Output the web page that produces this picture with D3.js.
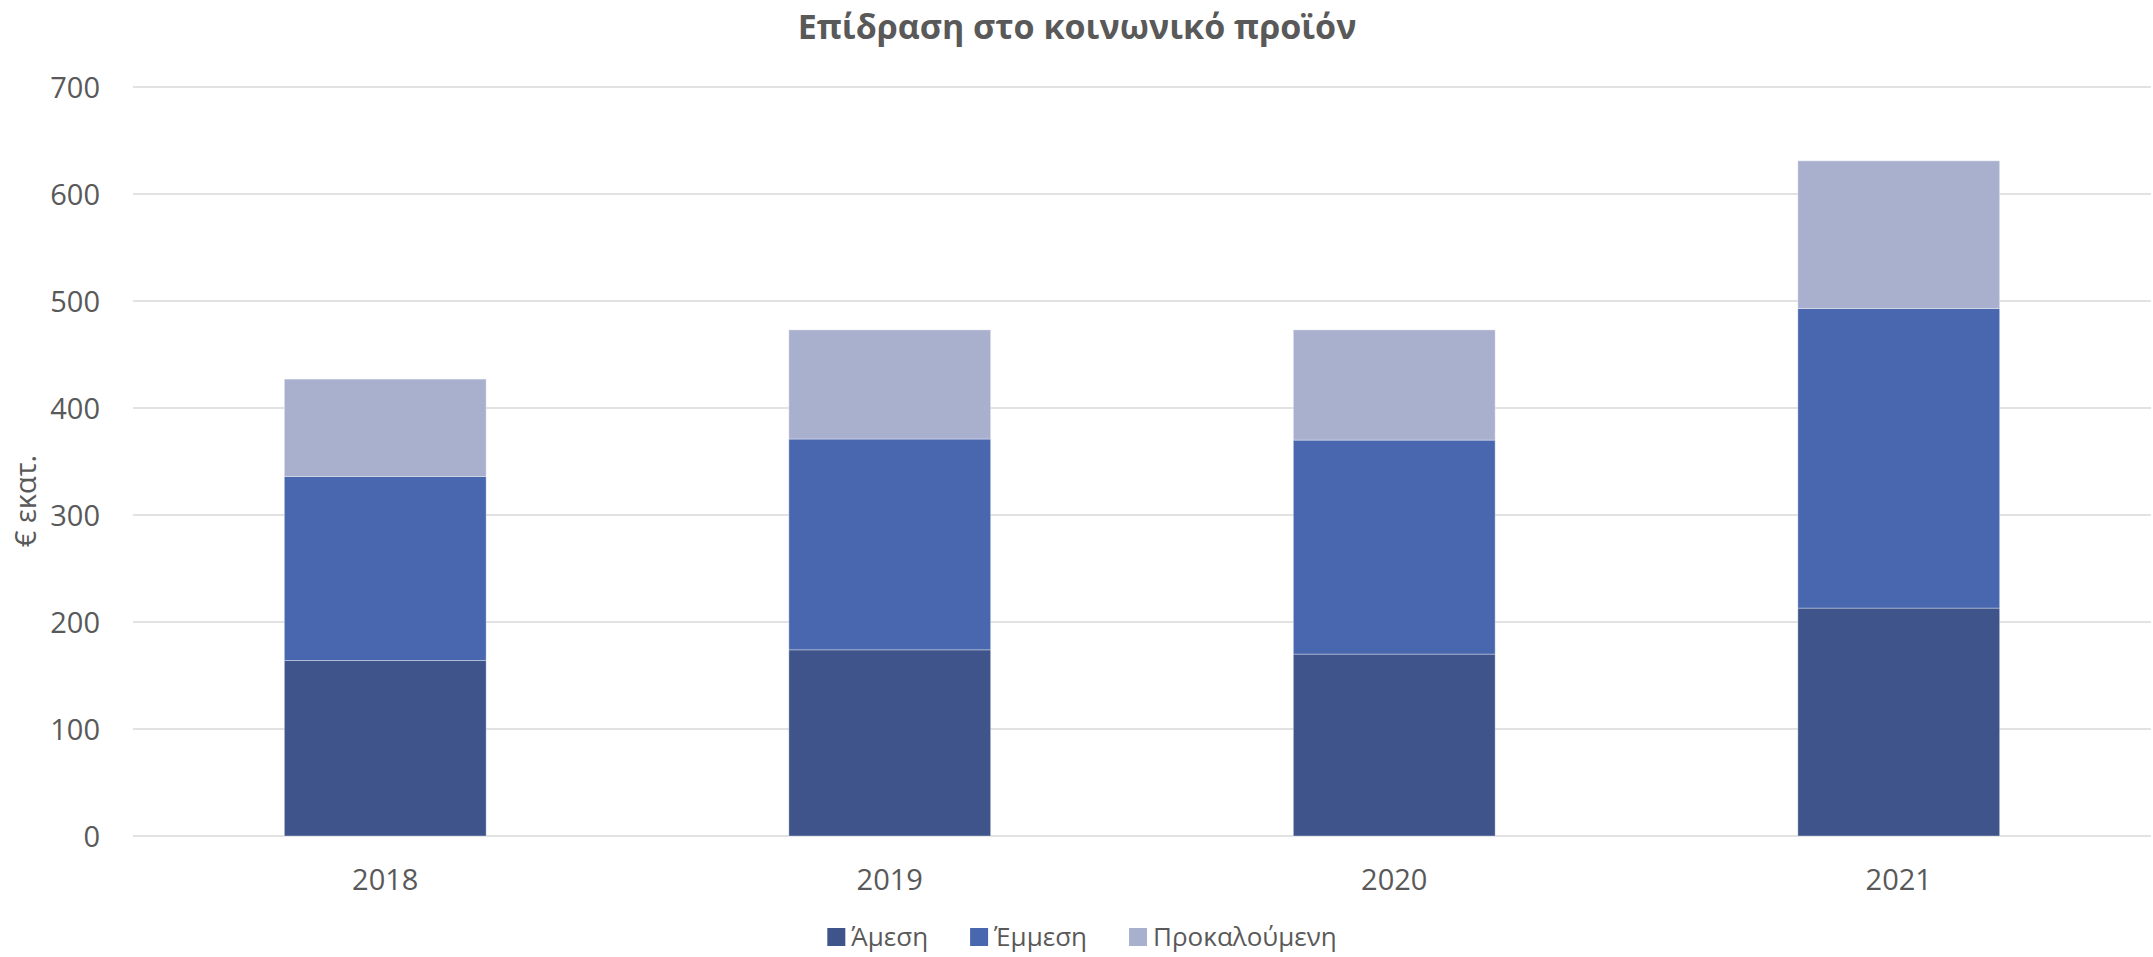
<!DOCTYPE html>
<html><head><meta charset="utf-8">
<script src="https://cdn.jsdelivr.net/npm/d3@7"></script>
<style>body{margin:0;background:#fff;} svg{display:block;font-family:"Open Sans","Noto Sans",sans-serif;}</style>
</head><body>
<svg id="c" width="2153" height="957"></svg>
<script>
const years = ["2018","2019","2020","2021"];
const seriesNames = ["Άμεση","Έμμεση","Προκαλούμενη"];
const direct   = [164, 174, 170, 213];
const indirect = [172, 197, 200, 280];
const induced  = [91, 102, 103, 138];
const yTicks = [0,100,200,300,400,500,600,700];
const colors = ["#3E548A","#4967AE","#A9B0CE"];
const title = "Επίδραση στο κοινωνικό προϊόν";
const yTitle = "€ εκατ.";

(function(){
const plotL = 133, plotR = 2151, plotT = 87, plotB = 836;
const svg = d3.select("#c");
const table = years.map((yy,i)=>({year:yy,"Άμεση":direct[i],"Έμμεση":indirect[i],"Προκαλούμενη":induced[i]}));
const stack = d3.stack().keys(seriesNames)(table);

const x = d3.scaleBand().domain(years).range([plotL,plotR]).paddingInner(0.6).paddingOuter(0.3);
const y = d3.scaleLinear().domain([0,700]).range([plotB,plotT]);

svg.append("g").selectAll("line").data(yTicks).join("line")
  .attr("x1",plotL).attr("x2",plotR)
  .attr("y1",d=>y(d)).attr("y2",d=>y(d))
  .attr("stroke","#d9d9d9").attr("stroke-width",1.5);

const yAxis = d3.axisLeft(y).tickValues(yTicks).tickSize(0).tickPadding(0);
const ga = svg.append("g").attr("transform",`translate(100,0)`).call(yAxis);
ga.select(".domain").remove();
ga.attr("font-family",null);
ga.selectAll("text").attr("fill","#595959").style("font-size","29px").attr("dy","0.35em");

svg.append("g").selectAll("g").data(stack).join("g")
  .attr("fill",(d,i)=>colors[i])
  .selectAll("rect").data(d=>d).join("rect")
  .attr("x",d=>x(d.data.year))
  .attr("width",x.bandwidth())
  .attr("y",d=>y(d[1]))
  .attr("height",d=>y(d[0])-y(d[1]))
  .attr("stroke","rgba(255,255,255,0.35)").attr("stroke-width",1);

const xAxis = d3.axisBottom(x).tickSize(0).tickPadding(0);
const gx = svg.append("g").attr("transform",`translate(0,880)`).call(xAxis);
gx.select(".domain").remove();
gx.attr("font-family",null);
gx.selectAll("text").attr("fill","#595959").style("font-size","29px").attr("dy","0.35em");

svg.append("text").attr("x",1077).attr("y",27).attr("dy","0.35em")
  .attr("text-anchor","middle").attr("fill","#595959")
  .style("font-size","34px").style("font-weight","bold").text(title);

svg.append("text").attr("transform",`translate(26,501) rotate(-90)`).attr("dy","0.35em")
  .attr("text-anchor","middle").attr("fill","#595959").style("font-size","29px").text(yTitle);

const lg = svg.append("g");
let lx = 0;
const ly = 937;
seriesNames.forEach((n,i)=>{
  lg.append("rect").attr("x",lx).attr("y",ly-9).attr("width",18).attr("height",18).attr("fill",colors[i]);
  const t = lg.append("text").attr("x",lx+24).attr("y",ly).attr("dy","0.35em")
    .attr("fill","#595959").style("font-size","26px").text(n);
  lx += 24 + t.node().getComputedTextLength() + (i < seriesNames.length-1 ? 42 : 0);
});
lg.attr("transform",`translate(${1082 - lx/2},0)`);
})();
</script>
</body></html>
